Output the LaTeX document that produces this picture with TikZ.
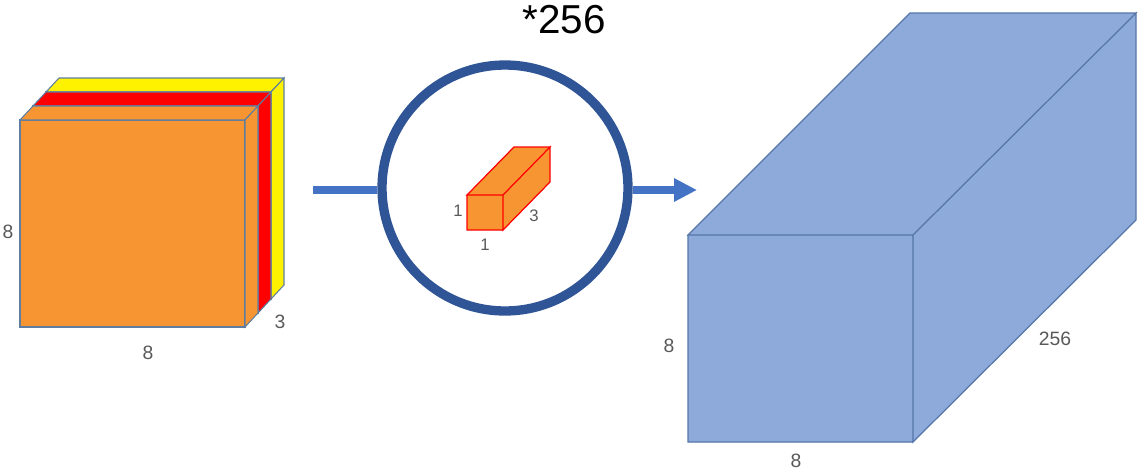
\documentclass[tikz,border=0pt]{standalone}
\usepackage{fontspec}
\setmainfont{Liberation Sans}
\usetikzlibrary{arrows.meta,positioning,calc}

\definecolor{slaborange}{RGB}{247,149,51}
\definecolor{slabedge}{RGB}{95,125,160}
\definecolor{ringblue}{RGB}{47,85,151}
\definecolor{flowblue}{RGB}{68,114,196}
\definecolor{boxblue}{RGB}{142,170,219}
\definecolor{boxedge}{RGB}{84,118,168}
\definecolor{labgray}{RGB}{89,89,89}

\tikzset{
  lab/.style={text=labgray,font=\fontsize{11}{13}\selectfont,inner sep=0pt},
  smalllab/.style={text=labgray,font=\fontsize{9.5}{11}\selectfont,inner sep=0pt},
  slab/.style={draw=slabedge,line width=.6pt},
  flow/.style={draw=flowblue,line width=4pt}
}

\begin{document}
\begin{tikzpicture}[x=0.02cm,y=-0.02cm,>={Triangle[length=13pt,width=12.5pt]}]
  \useasboundingbox (0,0) rectangle (1145,474);

  % input volume: three slabs, back to front
  \foreach \k/\col in {2/yellow,1/red,0/slaborange} {
    \begin{scope}[shift={(13*\k,-14*\k)}]
      \filldraw[slab,fill=\col] (20,120) rectangle (245,327);
      \filldraw[slab,fill=\col] (20,120) -- (33,106) -- (258,106) -- (245,120) -- cycle;
      \filldraw[slab,fill=\col] (245,120) -- (258,106) -- (258,313) -- (245,327) -- cycle;
    \end{scope}
  }
  \node[lab] (inh) at (8,232) {8};
  \node[lab] (inw) at (148,353) {8};
  \node[lab] (ind) at (280,322) {3};

  % the 1x1x3 kernel
  \node[circle,draw=ringblue,line width=5.3pt,minimum size=4.92cm,inner sep=0pt] (circ) at (505,188) {};
  \filldraw[draw=red,fill=slaborange,line width=.7pt]
    (467,195) -- (514,147) -- (550,147) -- (503,195) -- cycle
    (503,195) -- (550,147) -- (550,182) -- (503,230) -- cycle
    (467,195) rectangle (503,230);
  \node[smalllab] (kh) at (458,211) {1};
  \node[smalllab] (kw) at (485,245) {1};
  \node[smalllab] (kd) at (534,216) {3};
  \node[font=\fontsize{23}{26}\selectfont] (times) at (564,20) {*256};

  % arrows
  \coordinate (inL) at (313,190);
  \coordinate (outR) at (697,190);
  \draw[flow] (inL) -- (inL -| circ.west);
  \draw[flow,->,fill=flowblue] (outR -| circ.east) -- (outR);

  % output volume
  \filldraw[draw=boxedge,fill=boxblue,line width=.7pt]
    (688,235) -- (910,13) -- (1136,13) -- (913,235) -- cycle
    (913,235) -- (1136,13) -- (1136,220) -- (913,442) -- cycle
    (688,235) rectangle (913,442);
  \node[lab] (outh) at (669,346) {8};
  \node[lab] (outw) at (796,461) {8};
  \node[lab] (outd) at (1055,339) {256};
\end{tikzpicture}
\end{document}
